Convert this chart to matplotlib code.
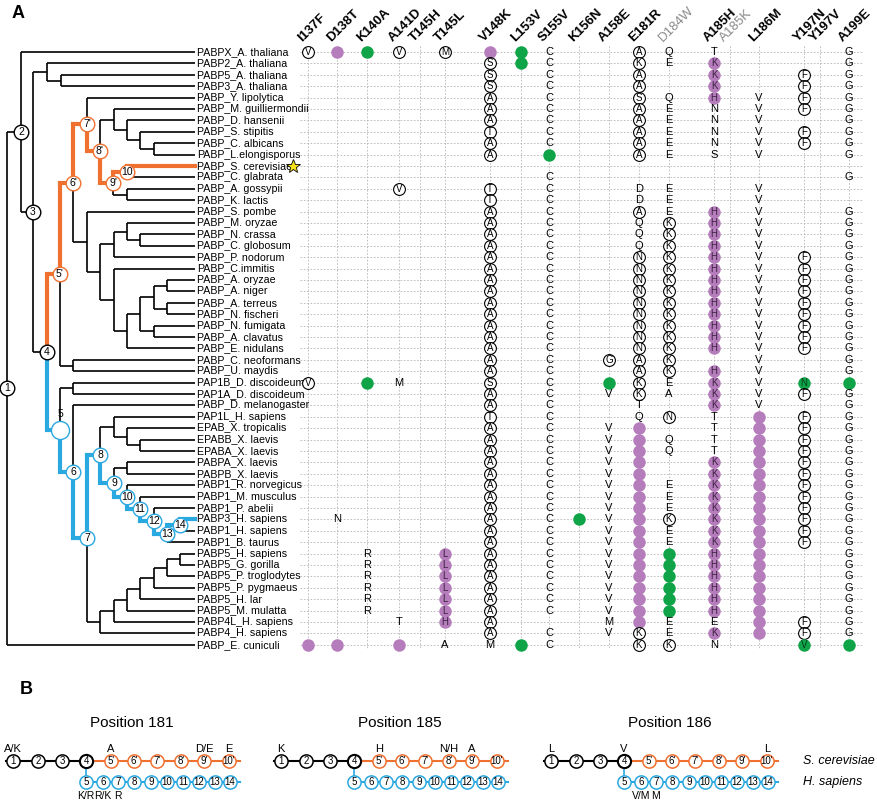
import matplotlib
matplotlib.use("Agg")
import matplotlib.pyplot as plt

FONT = ['Liberation Sans Narrow', 'Liberation Sans', 'DejaVu Sans']
plt.rcParams['font.family'] = ['Liberation Sans', 'DejaVu Sans']

# ---------------- data ----------------
mutations = ["I137F", "D138T", "K140A", "A141D", "T145H", "T145L", "V148K", "L153V", "S155V",
             "K156N", "A158E", "E181R", "D184W", "A185H", "A185K", "L186M", "Y197N", "Y197V", "A199E"]
gray_mutations = ["D184W", "A185K"]

species = ["PABPX_A. thaliana", "PABP2_A. thaliana", "PABP5_A. thaliana", "PABP3_A. thaliana",
           "PABP_Y. lipolytica", "PABP_M. guilliermondii", "PABP_D. hansenii", "PABP_S. stipitis",
           "PABP_C. albicans", "PABP_L.elongisporus", "PABP_S. cerevisiae", "PABP_C. glabrata",
           "PABP_A. gossypii", "PABP_K. lactis", "PABP_S. pombe", "PABP_M. oryzae", "PABP_N. crassa",
           "PABP_C. globosum", "PABP_P. nodorum", "PABP_C.immitis", "PABP_A. oryzae", "PABP_A. niger",
           "PABP_A. terreus", "PABP_N. fischeri", "PABP_N. fumigata", "PABP_A. clavatus",
           "PABP_E. nidulans", "PABP_C. neoformans", "PABP_U. maydis", "PAP1B_D. discoideum",
           "PAP1A_D. discoideum", "PABP_D. melanogaster", "PAP1L_H. sapiens", "EPAB_X. tropicalis",
           "EPABB_X. laevis", "EPABA_X. laevis", "PABPA_X. laevis", "PABPB_X. laevis",
           "PABP1_R. norvegicus", "PABP1_M. musculus", "PABP1_P. abelii", "PABP3_H. sapiens",
           "PABP1_H. sapiens", "PABP1_B. taurus", "PABP5_H. sapiens", "PABP5_G. gorilla",
           "PABP5_P. troglodytes", "PABP5_P. pygmaeus", "PABP5_H. lar", "PABP5_M. mulatta",
           "PABP4L_H. sapiens", "PABP4_H. sapiens", "PABP_E. cuniculi"]

# cell tokens: '.' empty, 'X' letter, 'oX' circled letter, 'p' purple, 'g' green, 'pX'/'gX' filled with letter
_fung = ". . . . . . oA . C . . oN oK pH . V oF . G"
cells = [
    "oV p g oV . oM p g C . . oA Q T . . . . G",
    ". . . . . . oS g C . . oK E pK . . . . G",
    ". . . . . . oS . C . . oA . pK . . oF . G",
    ". . . . . . oS . C . . oA . pK . . oF . G",
    ". . . . . . oA . C . . oS Q pH . V oF . G",
    ". . . . . . oA . C . . oA E N . V oF . G",
    ". . . . . . oA . C . . oA E N . V . . G",
    ". . . . . . oT . C . . oA E N . V oF . G",
    ". . . . . . oA . C . . oA E N . V oF . G",
    ". . . . . . oA . g . . oA E S . V . . G",
    ". . . . . . . . . . . . . . . . . . .",
    ". . . . . . . . C . . . . . . . . . G",
    ". . . oV . . oT . C . . D E . . V . . .",
    ". . . . . . oT . C . . D E . . V . . .",
    ". . . . . . oA . C . . oA E pH . V . . G",
    ". . . . . . oA . C . . Q oK pH . V . . G",
    ". . . . . . oA . C . . Q oK pH . V . . G",
    ". . . . . . oA . C . . Q oK pH . V . . G",
    _fung, _fung, _fung, _fung, _fung, _fung, _fung, _fung, _fung,
    ". . . . . . oA . C . oG oA oK . . V . . G",
    ". . . . . . oA . C . . oA oK pH . V . . G",
    "oV . g M . . oS . C . g oK E pK . V gN . g",
    ". . . . . . oA . C . V oK A pK . V oF . G",
    ". . . . . . oA . C . . T . pK . V . . G",
    ". . . . . . oT . C . . Q oN T . p oF . G",
    ". . . . . . oA . C . V p . T . p oF . G",
    ". . . . . . oA . C . V p Q T . p oF . G",
    ". . . . . . oA . C . V p Q T . p oF . G",
    ". . . . . . oA . C . V p . pK . p oF . G",
    ". . . . . . oA . C . V p . pK . p oF . G",
    ". . . . . . oA . C . V p E pK . p oF . G",
    ". . . . . . oA . C . V p E pK . p oF . G",
    ". . . . . . oA . C . V p E pK . p oF . G",
    ". N . . . . oA . C g V p oK pK . p oF . G",
    ". . . . . . oA . C . V p E pK . p oF . G",
    ". . . . . . oA . C . V p E pK . p oF . G",
    ". . R . . pL oA . C . V p g pH . p . . G",
    ". . R . . pL oA . C . V p g pH . p . . G",
    ". . R . . pL oA . C . V p g pH . p . . G",
    ". . R . . pL oA . C . V p g pH . p . . G",
    ". . R . . pL oA . C . V p g pH . p . . G",
    ". . R . . pL oA . C . V p g pH . p . . G",
    ". . . T . pH oA . . . M p E E . p oF . G",
    ". . . . . . oA . C . V oK E pK . p oF . G",
    "p p . p . A M g C . . oK oK N . . gV . g",
]

# panel B
panelB_titles = ["Position 181", "Position 185", "Position 186"]
top_nodes = ["1", "2", "3", "4", "5'", "6'", "7'", "8'", "9'", "10'"]
bot_nodes = ["5", "6", "7", "8", "9", "10", "11", "12", "13", "14"]
top_labels = [{0: "A/K", 4: "A", 8: "D/E", 9: "E"},
              {0: "K", 4: "H", 7: "N/H", 8: "A"},
              {0: "L", 3: "V", 9: "L"}]
bot_labels = [{0: "K/R", 1: "R/K", 2: "R"}, {}, {1: "V/M", 2: "M"}]

# ---------------- layout / style ----------------
ORANGE = "#F07030"
BLUE = "#2AA8E0"
PURPLE = "#B57DBB"
GREEN = "#10A449"
COLX = [308, 337, 367, 399, 420, 445, 490, 521, 549, 579, 609, 639, 669, 714, 730, 759, 804, 820, 849]
Y0, DY = 52, 11.4
LEAFX = 195


def rowy(i):
    return Y0 + DY * i


fig = plt.figure(figsize=(8.77, 8.0), dpi=100)
ax = fig.add_axes([0, 0, 1, 1])
ax.set_xlim(0, 877)
ax.set_ylim(800, 0)
ax.axis("off")

# ---------------- tree ----------------
def N(name, x, *kids):
    return {"name": name, "x": x, "kids": kids}

B14 = N("B14", 180, 41, 42)
B13 = N("B13", 167, B14, 43)
B12 = N("B12", 154, 40, B13)
B11 = N("B11", 140, 39, B12)
B10 = N("B10", 127, 38, B11)
B9 = N("B9", 114, N("u", 127, 36, 37), B10)
B8 = N("B8", 100, N("q", 114, 32, N("s", 127, 33, N("t", 140, 34, 35))), B9)
P5 = N("p5", 100, N("p5a", 114, N("p5b", 127, N("p5c", 140, N("p5d", 154, N("p5e", 167,
        N("p5f", 180, 44, 45), 46), 47), 48), 49), 50), 51)
B7 = N("B7", 87, B8, P5)
B6 = N("B6", 73, 31, B7)
B5 = N("B5", 60, N("dd", 73, 29, 30), B6)
N9p = N("9'", 113, N("10", 127, 10, 11), N("e", 127, 12, 13))
N8p = N("8'", 100, N("a", 114, 5, N("b", 127, 6, N("c", 140, 7, N("d", 154, 8, 9)))), N9p)
N7p = N("7'", 87, 4, N8p)
F = N("f", 87, 14, N("g", 100, N("h", 114, N("j", 127, 15, N("k", 140, 16, 17)), 18),
      N("i", 114, 19, N("r", 127, N("l", 140, N("m", 154, N("n", 167, 20, 21), N("o", 167, 22, 23)),
                                     N("p", 154, 24, 25)), 26))))
N6p = N("6'", 73, N7p, F)
N5p = N("5'", 60, N6p, N("cu", 73, 27, 28))
N4 = N("4", 47, N5p, B5)
tree = N("1", 7, N("2", 21, 0, N("3", 33, N("at", 47, 1, N("at2", 61, 2, 3)), N4)), 52)

orange_edges = {("4", "5'"), ("5'", "6'"), ("6'", "7'"), ("7'", "8'"), ("8'", "9'"), ("9'", "10"), ("10", 10)}
blue_edges = {("4", "B5"), ("B5", "B6"), ("B6", "B7"), ("B7", "B8"), ("B8", "B9"), ("B9", "B10"),
              ("B10", "B11"), ("B11", "B12"), ("B12", "B13"), ("B13", "B14"), ("B14", 41)}

pos = {}


def layout(n):
    if isinstance(n, int):
        return LEAFX, rowy(n)
    ys = [layout(k)[1] for k in n["kids"]]
    y = (ys[0] + ys[-1]) / 2
    pos[n["name"]] = (n["x"], y)
    n["y"] = y
    return n["x"], y


layout(tree)


def key(k):
    return k if isinstance(k, int) else k["name"]


def draw(n):
    if isinstance(n, int):
        return
    x, y = n["x"], n["y"]
    kids = n["kids"]
    cy = [layout(k)[1] for k in kids]
    ax.plot([x, x], [min(cy), max(cy)], color="black", lw=1.2, solid_capstyle="butt", zorder=2)
    for k in kids:
        kx, ky = layout(k)
        ax.plot([x, kx], [ky, ky], color="black", lw=1.2, solid_capstyle="butt", zorder=2)
        e = (n["name"], key(k))
        col = ORANGE if e in orange_edges else BLUE if e in blue_edges else None
        if col:
            ax.plot([x, x, kx], [y, ky, ky], color=col, lw=3, solid_joinstyle="miter", zorder=3)
        draw(k)


draw(tree)

circ = {"1": ("1", "black"), "2": ("2", "black"), "3": ("3", "black"), "4": ("4", "black"),
        "5'": ("5'", ORANGE), "6'": ("6'", ORANGE), "7'": ("7'", ORANGE), "8'": ("8'", ORANGE),
        "9'": ("9'", ORANGE), "10": ("10", ORANGE), "B5": ("", BLUE), "B6": ("6", BLUE),
        "B7": ("7", BLUE), "B8": ("8", BLUE), "B9": ("9", BLUE), "B10": ("10", BLUE),
        "B11": ("11", BLUE), "B12": ("12", BLUE), "B13": ("13", BLUE), "B14": ("14", BLUE)}
for nm, (lab, col) in circ.items():
    x, y = pos[nm]
    ms = 13 if nm == "B5" else 10.5
    ax.plot([x], [y], "o", ms=ms, mfc="white", mec=col, mew=1.0, zorder=5)
    ax.text(x, y, lab, ha="center", va="center", fontsize=7.5, zorder=6)
x5, y5 = pos["B5"]
ax.text(x5, y5 - 16, "5", ha="center", va="center", fontsize=7.5)

# leaf labels
for i, s in enumerate(species):
    ax.text(LEAFX + 2, rowy(i), s, ha="left", va="center", fontsize=7.7, family=FONT)
ax.plot([293], [rowy(10)], marker="*", ms=10, mfc="#F4E11C", mec="black", mew=0.6, zorder=6)

# ---------------- table ----------------
ytop, ybot = 46, rowy(len(species) - 1) + 4
for x in COLX:
    ax.plot([x, x], [ytop, ybot], color="#b5b5b5", lw=0.6, ls=(0, (2, 2)), zorder=1)
for i in range(len(species)):
    ax.plot([300, 862], [rowy(i)] * 2, color="#b5b5b5", lw=0.6, ls=(0, (2, 2)), zorder=1)

for j, m in enumerate(mutations):
    gray = m in gray_mutations
    ax.text(COLX[j] - 4, 44, m, rotation=45, ha="left", va="bottom", fontsize=9.5,
            fontweight="normal" if gray else "bold", color="#8a8a8a" if gray else "black",
            rotation_mode="anchor")

for i, row in enumerate(cells):
    for j, t in enumerate(row.split()):
        if t == ".":
            continue
        x, y = COLX[j], rowy(i)
        if t[0] == "o":
            ax.plot([x], [y], "o", ms=8.5, mfc="white", mec="black", mew=0.8, zorder=4)
            ax.text(x, y, t[1:], ha="center", va="center", fontsize=7, family=FONT, zorder=5)
        elif t[0] in "pg" and (len(t) == 1 or t[1:].isupper()):
            ax.plot([x], [y], "o", ms=9, mfc=PURPLE if t[0] == "p" else GREEN, mec="none", zorder=4)
            if len(t) > 1:
                ax.text(x, y, t[1:], ha="center", va="center", fontsize=7, family=FONT,
                        color="#3a1f3f" if t[0] == "p" else "#063d1b", zorder=5)
        else:
            ax.text(x, y, t, ha="center", va="center", fontsize=8, family=FONT, zorder=5)

ax.text(12, 14, "A", fontsize=13, fontweight="bold", ha="left", va="center")
ax.text(20, 690, "B", fontsize=13, fontweight="bold", ha="left", va="center")

# ---------------- panel B ----------------
TOPX = [13, 38, 62, 86, 111, 134, 157, 181, 204, 229]
BOTX = [86, 103, 118, 134, 151, 167, 183, 199, 215, 230]
TY, BY = 761, 782
for g, title in enumerate(panelB_titles):
    off = [0, 268, 538][g]
    ax.text(off + 132, 723, title, ha="center", va="center", fontsize=11)
    ax.plot([off + 6, off + TOPX[3]], [TY, TY], color="black", lw=1.5, zorder=2)
    ax.plot([off + TOPX[3], off + 240], [TY, TY], color=ORANGE, lw=1.5, zorder=2)
    ax.plot([off + TOPX[3], off + TOPX[3]], [TY, BY], color=BLUE, lw=1.2, zorder=2)
    ax.plot([off + BOTX[0], off + 240], [BY, BY], color=BLUE, lw=1.5, zorder=2)
    for k, lab in enumerate(top_nodes):
        col = "black" if k < 4 else ORANGE
        ax.plot([off + TOPX[k]], [TY], "o", ms=9.5, mfc="white", mec=col, mew=1.1 if k != 3 else 1.5, zorder=4)
        ax.text(off + TOPX[k], TY, lab, ha="center", va="center", fontsize=7, zorder=5)
    for k, lab in enumerate(bot_nodes):
        ax.plot([off + BOTX[k]], [BY], "o", ms=9.5, mfc="white", mec=BLUE, mew=1.1, zorder=4)
        ax.text(off + BOTX[k], BY, lab, ha="center", va="center", fontsize=7, zorder=5)
    for k, lab in top_labels[g].items():
        ax.text(off + TOPX[k], 749, lab, ha="center", va="center", fontsize=8, family=FONT)
    for k, lab in bot_labels[g].items():
        ax.text(off + BOTX[k], 796, lab, ha="center", va="center", fontsize=7.5, family=FONT)

ax.text(803, 761, "S. cerevisiae", ha="left", va="center", fontsize=9, style="italic")
ax.text(803, 782, "H. sapiens", ha="left", va="center", fontsize=9, style="italic")

fig.savefig("out.png", dpi=100)
